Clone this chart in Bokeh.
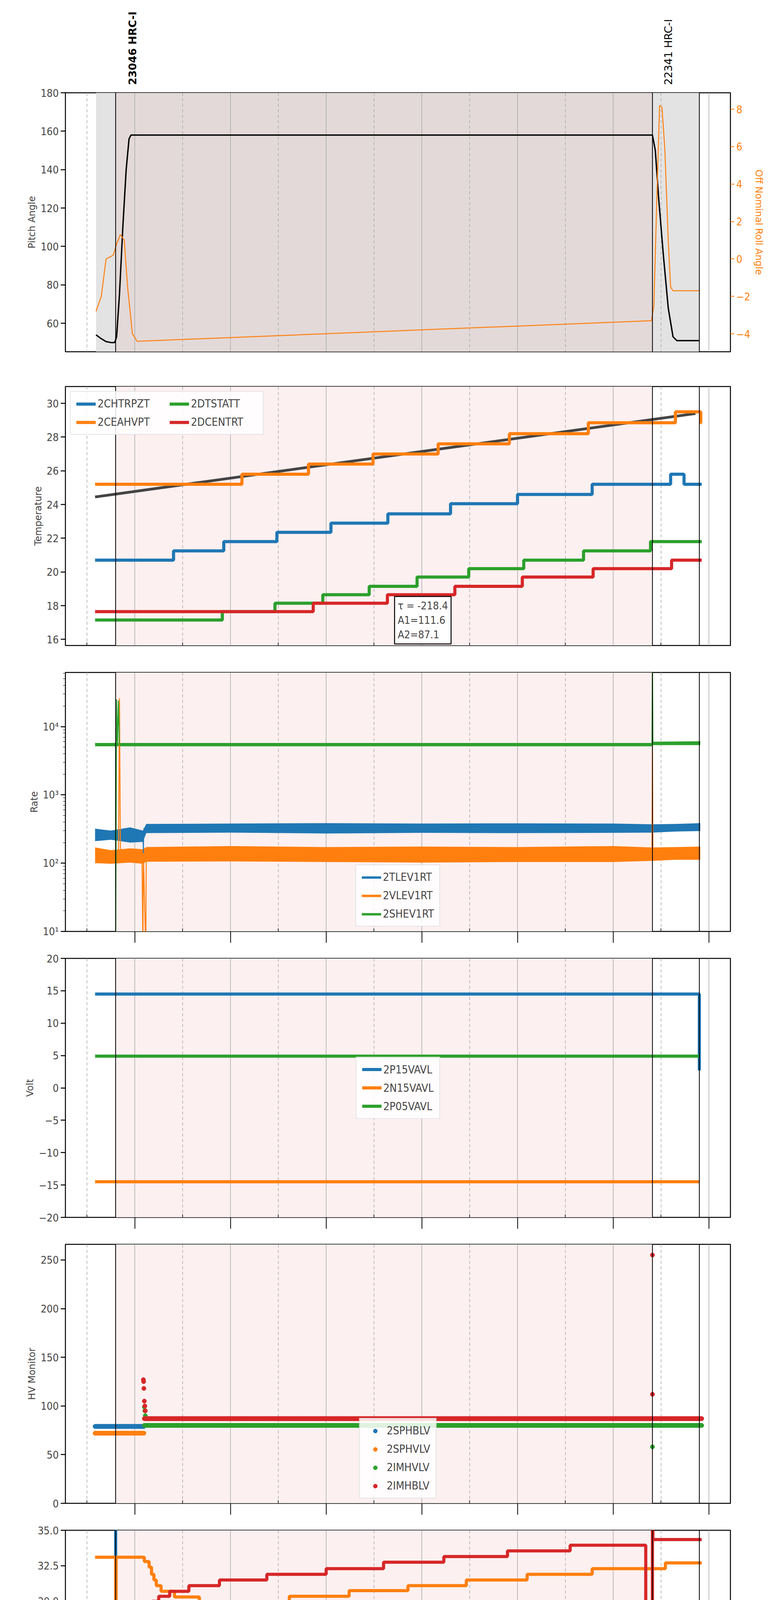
import numpy as np
from math import pi
from bokeh.plotting import figure
from bokeh.models import (Range1d, LinearAxis, FixedTicker, Span, BoxAnnotation, Label)
from bokeh.layouts import column
from bokeh.embed import file_html
from bokeh.resources import INLINE
from bokeh.core.properties import value

BLUE, ORANGE, GREEN, RED = "#1f77b4", "#ff7f0e", "#2ca02c", "#d62728"
FONT = "DejaVu Sans"
CFONT = "DejaVu Sans Condensed"

# ---------------- data (hours; 24 = 00h of next day) ----------------
obs_start, obs_end, end_line = 17.6, 28.82, 29.8
grey1 = (17.19, 17.6)
grey2 = (28.82, 29.8)
obsid_text = ["23046 HRC-I", "22341 HRC-I"]
obsid_x = [17.95, 29.15]
obsid_style = ["bold", "normal"]

pitch_t = [17.19, 17.3, 17.4, 17.5, 17.58, 17.62, 17.68, 17.75, 17.82, 17.88, 17.92, 28.82, 28.88, 28.95, 29.05, 29.15, 29.25, 29.33, 29.8]
pitch_v = [54, 52, 50.5, 50, 50, 53, 75, 110, 140, 156, 158, 158, 150, 125, 95, 68, 53, 51, 51]
roll_t = [17.19, 17.3, 17.4, 17.55, 17.62, 17.7, 17.78, 17.85, 17.95, 18.05, 28.8, 28.85, 28.92, 28.97, 29.02, 29.08, 29.15, 29.2, 29.25, 29.8]
roll_v = [-2.8, -2.0, 0.0, 0.2, 0.8, 1.3, 1.0, -1.5, -4.0, -4.4, -3.3, -2.5, 4.0, 8.2, 8.1, 5.8, 1.0, -1.5, -1.7, -1.7]

t_end = 29.85
CHTRPZT_t = [17.17, 18.81, 19.86, 20.97, 22.10, 23.29, 24.60, 26.00, 27.56, 29.20, 29.48]
CHTRPZT_v = [20.7, 21.25, 21.8, 22.35, 22.9, 23.45, 24.05, 24.6, 25.2, 25.8, 25.2]
CEAHVPT_t = [17.17, 20.24, 21.63, 22.98, 24.34, 25.83, 27.48, 29.30, 29.83]
CEAHVPT_v = [25.2, 25.8, 26.4, 27.0, 27.6, 28.2, 28.85, 29.5, 28.85]
DTSTATT_t = [17.17, 19.83, 20.93, 21.93, 22.90, 23.90, 24.98, 26.13, 27.38, 28.78]
DTSTATT_v = [17.15, 17.65, 18.15, 18.65, 19.15, 19.7, 20.2, 20.7, 21.25, 21.8]
DCENTRT_t = [17.17, 21.73, 23.28, 24.69, 26.10, 27.58, 29.22]
DCENTRT_v = [17.65, 18.15, 18.65, 19.15, 19.7, 20.2, 20.7]
fit_t = [17.17, 23.5, 29.72]
fit_v = [24.45, 26.95, 29.4]
fit_text = "τ = -218.4\nA1=111.6\nA2=87.1"

tlev_t = [17.17, 17.5, 17.9, 18.17, 18.24, 20.0, 22.0, 24.0, 26.0, 28.0, 28.82, 29.3, 29.82]
tlev_lo = [210, 220, 200, 205, 275, 280, 272, 278, 275, 278, 280, 290, 295]
tlev_hi = [320, 300, 335, 300, 375, 380, 385, 380, 383, 380, 370, 375, 385]
vlev_t = [17.17, 17.5, 17.9, 18.17, 18.24, 20.0, 22.0, 24.0, 26.0, 28.0, 28.82, 29.3, 29.82]
vlev_lo = [100, 98, 102, 98, 105, 106, 104, 102, 104, 104, 108, 112, 112]
vlev_hi = [170, 155, 165, 160, 172, 178, 172, 175, 172, 178, 170, 172, 175]
shev_t = [17.17, 28.82, 28.83, 29.82]
shev_lo = [5150, 5150, 5350, 5350]
shev_hi = [5750, 5750, 6000, 6100]
tlev_line_t = [17.17, 18.17, 18.18, 18.19, 29.82]
tlev_line_v = [265, 255, 130, 325, 330]
shev_spk_t = [17.58, 17.6, 17.6, 17.62, 17.64, 17.66, 17.68, 28.81, 28.82, 28.83]
shev_spk_v = [5400, 5400, 5, 25000, 5400, 24000, 5400, 5400, 1e5, 5600]
vlev_spk_t = [17.66, 17.68, 17.7, 18.15, 18.17, 18.18, 18.23, 18.24, 28.81, 28.82, 28.83]
vlev_spk_v = [140, 26000, 140, 140, 5, 140, 5, 140, 140, 5200, 150]

volt_t = [17.17, 29.8, 29.8]
P15_v = [14.5, 14.5, 2.7]
N15_v = [-14.5, -14.5, -14.5]
P05_v = [4.9, 4.9, 4.9]

hv_pre = (17.17, 18.2)
SPHBLV_v = 79
SPHVLV_v = 72
hv_post = (18.2, 29.85)
IMHVLV_v = 80
IMHBLV_v = 87
IMHBLV_out_t = [18.18, 18.185, 18.19, 18.2, 18.21, 18.22, 28.82, 28.82]
IMHBLV_out_v = [127, 125, 118, 105, 100, 95, 255, 112]
IMHVLV_out_t = [18.2, 18.21, 18.22, 28.82]
IMHVLV_out_v = [99, 95, 90, 58]

SPINATM_t = [17.17, 17.6, 17.6, 18.10, 19.06, 22.17, 24.44, 26.65, 29.11]
SPINATM_v = [18.9, 40, 18.9, 18.25, 18.9, 19.6, 20.3, 20.95, 21.65]
SPHVATM_t = [17.17, 17.6, 17.61, 18.2, 18.3, 18.35, 18.4, 18.45, 18.55, 18.6, 18.83, 19.35, 21.23, 22.48, 23.71, 24.93, 26.2, 27.56, 29.09]
SPHVATM_v = [33.1, 29.6, 33.1, 32.8, 32.4, 31.9, 31.5, 31.1, 30.7, 30.7, 30.3, 29.95, 30.35, 30.75, 31.1, 31.5, 31.9, 32.3, 32.7]
IMINATM_t = [17.17, 17.3, 17.6, 17.61, 19.83, 23.47, 25.81, 28.16]
IMINATM_v = [18.2, 17.6, 10, 17.6, 17.6, 18.2, 18.9, 19.6]
IMHVATM_t = [17.17, 17.6, 17.61, 18.36, 18.5, 18.73, 19.13, 19.77, 20.76, 22.0, 23.2, 24.46, 25.79, 27.1, 28.68, 28.82, 28.83]
IMHVATM_v = [29.6, 17.8, 29.6, 30.0, 30.35, 30.7, 31.1, 31.5, 31.9, 32.3, 32.75, 33.15, 33.55, 33.95, 10, 40, 34.35]

FHTRMZT_t = [17.17, 17.84, 18.23, 18.9, 19.46, 20.06, 20.71, 21.39, 22.11, 22.95, 23.78, 24.72, 25.76, 26.96, 28.31, 29.77]
FHTRMZT_v = [18.15, 17.6, 18.15, 18.65, 19.15, 19.7, 20.2, 20.7, 21.3, 21.8, 22.4, 22.9, 23.45, 24.05, 24.6, 24.05]
FRADPYT_t = [18.63, 18.97, 19.44, 20.0, 20.6, 21.28, 21.99, 22.72, 23.57, 24.48, 25.5, 26.65, 27.97, 29.11, 29.43]
FRADPYT_v = [14.75, 15.25, 15.7, 16.2, 16.7, 17.15, 17.65, 18.15, 18.65, 19.15, 19.7, 20.2, 20.7, 20.2, 19.7]
FEPRATM_t = [17.17, 17.6, 17.61, 19.35, 20.26, 21.26, 22.32, 23.59, 24.98, 26.7, 28.73, 28.8, 28.81, 28.82, 29.75]
FEPRATM_v = [21.0, 30, 21.0, 21.7, 22.4, 23.15, 23.9, 24.6, 25.4, 26.15, 30, 26.2, 24.0, 30, 26.15]
FE00ATM_t = [17.17, 17.6, 17.61, 17.75, 17.8, 18.05, 18.1, 18.7, 19.1, 19.56, 19.98, 20.45, 20.92, 21.44, 21.85, 22.53, 23.2, 23.73, 24.46, 25.24, 26.02, 26.9, 27.84, 28.82, 28.83, 28.9]
FE00ATM_v = [18.7, 10, 18.7, 19.3, 18.7, 18.3, 18.7, 19.0, 19.3, 19.6, 19.9, 20.2, 20.5, 20.8, 21.1, 21.4, 21.75, 22.05, 22.35, 22.65, 23.0, 23.3, 23.6, 10, 24.0, 23.6]

xticks_even = [18, 20, 22, 24, 26, 28, 30]
xticks_odd = [17, 19, 21, 23, 25, 27, 29]
def hlabel(h):
    return "%02dh" % (h % 24)

# ---------------- helpers ----------------
X0, X1 = 16.55, 30.45
FW, FH = 1703, 663
LEFT, RIGHT = 167, 110

def stepxy(t, v, end=t_end):
    xs, ys = [], []
    for i, (a, b) in enumerate(zip(t, v)):
        nxt = t[i + 1] if i + 1 < len(t) else end
        xs += [a, nxt]
        ys += [b, b]
    return xs, ys

def make_fig(yr, ylabel, xr, top=20, bottom=49, log=False, ticks=None, xticks_out=29, xaxis=True):
    p = figure(frame_width=FW, frame_height=FH, x_range=xr, y_range=Range1d(*yr),
               y_axis_type="log" if log else "linear", output_backend="svg", toolbar_location=None,
               min_border_left=LEFT, min_border_right=RIGHT, min_border_top=top, min_border_bottom=bottom,
               x_axis_location=None)
    p.grid.visible = False
    p.outline_line_color = "black"
    p.outline_line_width = 2.5
    ya = p.yaxis[0]
    ya.axis_label = ylabel
    ya.axis_label_text_font = FONT
    ya.axis_label_text_font_size = "24px"
    ya.axis_label_text_font_style = "normal"
    ya.major_label_text_font = CFONT
    ya.major_label_text_font_size = "27px"
    ya.major_tick_out = 12
    ya.major_tick_in = 0
    ya.major_tick_line_width = 2.5
    ya.minor_tick_in = 0
    ya.minor_tick_out = 6 if log else 0
    ya.axis_line_color = None
    if ticks is not None:
        ya.ticker = ticks
    if xaxis:
        xa = LinearAxis(ticker=FixedTicker(ticks=xticks_even, minor_ticks=xticks_odd))
        xa.major_tick_out = xticks_out
        xa.major_tick_in = 0
        xa.major_tick_line_width = 2
        xa.minor_tick_out = 0
        xa.minor_tick_in = 8
        xa.minor_tick_line_width = 1.5
        xa.axis_line_color = None
        xa.major_label_text_font_size = "0px"
        xa.major_label_text_color = None
        p.add_layout(xa, "below")
    return p

def decorate(p, shade_color, first=False):
    if first:
        for a, b in (grey1, grey2):
            p.add_layout(BoxAnnotation(left=a, right=b, fill_color="#e3e3e3", fill_alpha=1, line_color=None, level="underlay"))
    p.add_layout(BoxAnnotation(left=obs_start, right=obs_end, fill_color=shade_color, fill_alpha=1, line_color=None, level="underlay"))
    for h in xticks_odd:
        p.add_layout(Span(location=h, dimension="height", line_color="#aaaaaa", line_dash="8 6", line_width=1.5, level="underlay"))
    for h in xticks_even:
        p.add_layout(Span(location=h, dimension="height", line_color="#aaaaaa", line_width=1.5, level="underlay"))
    for h in (obs_start, obs_end, end_line):
        p.add_layout(Span(location=h, dimension="height", line_color="black", line_width=2))

def style_legend(p, loc, ncols=1):
    lg = p.legend[0]
    lg.location = loc
    lg.ncols = ncols
    lg.label_text_font = CFONT
    lg.label_text_font_size = "28px"
    lg.glyph_width = 50
    lg.glyph_height = 26
    lg.spacing = 14
    lg.padding = 14
    lg.margin = 12
    lg.border_line_color = "#cccccc"
    lg.border_line_width = 2
    lg.background_fill_alpha = 0.85

PINK = "#fdf0f0"
shared_x = Range1d(X0, X1)

# ---------------- header with observation labels ----------------
hdr = figure(frame_width=FW, frame_height=222, x_range=shared_x, y_range=Range1d(0, 222),
             output_backend="svg", toolbar_location=None, min_border_left=LEFT, min_border_right=RIGHT,
             min_border_top=0, min_border_bottom=0, x_axis_location=None, y_axis_location=None)
hdr.grid.visible = False
hdr.outline_line_color = None
for txt, hx, st in zip(obsid_text, obsid_x, obsid_style):
    hdr.text(x=[hx], y=[5], text=[txt], angle=pi / 2, text_align="left", text_baseline="middle",
             text_font=value(FONT), text_font_size="27px", text_font_style=st, text_color="black")

# ---------------- panel 1 ----------------
p1 = make_fig((45.2, 180), "Pitch Angle", shared_x, top=15, bottom=69, ticks=FixedTicker(ticks=[60, 80, 100, 120, 140, 160, 180]), xaxis=False)
decorate(p1, "#e3d9d9", first=True)
p1.extra_y_ranges = {"roll": Range1d(-4.96, 8.88)}
ra = LinearAxis(y_range_name="roll", ticker=FixedTicker(ticks=[-4, -2, 0, 2, 4, 6, 8]), axis_label="Off Nominal Roll Angle")
ra.axis_label_text_color = ORANGE
ra.axis_label_text_font = FONT
ra.axis_label_text_font_size = "24px"
ra.axis_label_text_font_style = "normal"
ra.major_label_text_color = ORANGE
ra.major_label_text_font = CFONT
ra.major_label_text_font_size = "27px"
ra.major_tick_line_color = ORANGE
ra.major_tick_line_width = 2
ra.major_tick_out = 10
ra.major_tick_in = 0
ra.minor_tick_out = 0
ra.axis_line_color = None
p1.add_layout(ra, "right")
p1.line(pitch_t, pitch_v, color="black", line_width=3.5)
p1.line(roll_t, roll_v, color=ORANGE, line_width=2.5, y_range_name="roll")

# ---------------- panel 2 ----------------
p2 = make_fig((15.64, 31.0), "Temperature", shared_x, ticks=FixedTicker(ticks=[16, 18, 20, 22, 24, 26, 28, 30]), xticks_out=0)
decorate(p2, PINK)
p2.line(fit_t, fit_v, color="#444444", line_width=7)
for t, v, c, n in [(CHTRPZT_t, CHTRPZT_v, BLUE, "2CHTRPZT"), (CEAHVPT_t, CEAHVPT_v, ORANGE, "2CEAHVPT"),
                   (DTSTATT_t, DTSTATT_v, GREEN, "2DTSTATT"), (DCENTRT_t, DCENTRT_v, RED, "2DCENTRT")]:
    xs, ys = stepxy(t, v)
    p2.line(xs, ys, color=c, line_width=8, legend_label=n)
style_legend(p2, "top_left", ncols=2)
p2.legend[0].label_width = 170
p2.add_layout(Label(x=23.43, y=15.64, y_offset=4, text=fit_text, text_baseline="bottom", text_font=CFONT, text_font_size="27px",
                    border_line_color="black", border_line_width=2.5, background_fill_color="white", padding=8))

# ---------------- panel 3 ----------------
p3 = make_fig((10, 6.2e4), "Rate", shared_x, log=True,
              ticks=FixedTicker(ticks=[10, 100, 1000, 10000],
                                minor_ticks=[m * 10 ** e for e in range(1, 5) for m in range(2, 10)]))
p3.yaxis[0].major_label_overrides = {10: "10¹", 100: "10²", 1000: "10³", 10000: "10⁴"}
decorate(p3, PINK)
p3.varea(x=tlev_t, y1=tlev_lo, y2=tlev_hi, color=BLUE)
p3.varea(x=vlev_t, y1=vlev_lo, y2=vlev_hi, color=ORANGE)
p3.varea(x=shev_t, y1=shev_lo, y2=shev_hi, color=GREEN)
p3.line(tlev_line_t, tlev_line_v, color=BLUE, line_width=2)
p3.line(vlev_spk_t, vlev_spk_v, color=ORANGE, line_width=2.5)
p3.line(shev_spk_t, shev_spk_v, color=GREEN, line_width=2.5)
for c, n in [(BLUE, "2TLEV1RT"), (ORANGE, "2VLEV1RT"), (GREEN, "2SHEV1RT")]:
    p3.line([0, 0.1], [1, 1], color=c, line_width=6, legend_label=n)
style_legend(p3, "bottom_center")

# ---------------- panel 4 ----------------
p4 = make_fig((-20, 20), "Volt", shared_x, ticks=FixedTicker(ticks=[-20, -15, -10, -5, 0, 5, 10, 15, 20]))
decorate(p4, PINK)
p4.line(volt_t, P15_v, color=BLUE, line_width=8, legend_label="2P15VAVL")
p4.line(volt_t, N15_v, color=ORANGE, line_width=8, legend_label="2N15VAVL")
p4.line(volt_t, P05_v, color=GREEN, line_width=8, legend_label="2P05VAVL")
style_legend(p4, "center")

# ---------------- panel 5 ----------------
p5 = make_fig((0, 266), "HV Monitor", shared_x, ticks=FixedTicker(ticks=[0, 50, 100, 150, 200, 250]))
decorate(p5, PINK)
pre_t = np.arange(hv_pre[0], hv_pre[1], 0.01)
post_t = np.arange(hv_post[0], hv_post[1], 0.01)
p5.scatter(pre_t, [SPHBLV_v] * len(pre_t), color=BLUE, size=11, legend_label="2SPHBLV")
p5.scatter(pre_t, [SPHVLV_v] * len(pre_t), color=ORANGE, size=11, legend_label="2SPHVLV")
p5.scatter(list(post_t) + IMHVLV_out_t, [IMHVLV_v] * len(post_t) + IMHVLV_out_v, color=GREEN, size=11, legend_label="2IMHVLV")
p5.scatter(list(post_t) + IMHBLV_out_t, [IMHBLV_v] * len(post_t) + IMHBLV_out_v, color=RED, size=11, legend_label="2IMHBLV")
style_legend(p5, "bottom_center")

# ---------------- panel 6 ----------------
p6 = make_fig((16.76, 35.0), "Detector Temp", shared_x, ticks=FixedTicker(ticks=[17.5, 20, 22.5, 25, 27.5, 30, 32.5, 35]))
p6.yaxis[0].major_label_overrides = {17.5: "17.5", 20: "20.0", 22.5: "22.5", 25: "25.0", 27.5: "27.5", 30: "30.0", 32.5: "32.5", 35: "35.0"}
decorate(p6, PINK)
for t, v, c, n in [(SPINATM_t, SPINATM_v, BLUE, "2SPINATM"), (SPHVATM_t, SPHVATM_v, ORANGE, "2SPHVATM"),
                   (IMINATM_t, IMINATM_v, GREEN, "2IMINATM"), (IMHVATM_t, IMHVATM_v, RED, "2IMHVATM")]:
    xs, ys = stepxy(t, v)
    p6.line(xs, ys, color=c, line_width=8, legend_label=n)
style_legend(p6, "center")

# ---------------- panel 7 ----------------
p7 = make_fig((14.68, 26.89), "FEA Temp", shared_x, bottom=105, ticks=FixedTicker(ticks=[16, 18, 20, 22, 24, 26]), xaxis=False)
decorate(p7, PINK)
for t, v, c, n in [(FHTRMZT_t, FHTRMZT_v, BLUE, "2FHTRMZT"), (FRADPYT_t, FRADPYT_v, ORANGE, "2FRADPYT"),
                   (FEPRATM_t, FEPRATM_v, GREEN, "2FEPRATM"), (FE00ATM_t, FE00ATM_v, RED, "2FE00ATM")]:
    xs, ys = stepxy(t, v)
    p7.line(xs, ys, color=c, line_width=8, legend_label=n)
style_legend(p7, "top_left")
# close axis: small odd-hour labels with long even-hour ticks; outer axis: even-hour labels and date
odd_axis = LinearAxis(ticker=FixedTicker(ticks=xticks_odd, minor_ticks=xticks_even), axis_line_color=None,
                      major_tick_out=8, major_tick_in=0, major_tick_line_width=1.5,
                      minor_tick_out=29, minor_tick_in=0, minor_tick_line_width=2,
                      major_label_text_font=CFONT, major_label_text_font_size="19px", major_label_standoff=2,
                      major_label_overrides={h: hlabel(h) for h in xticks_odd})
even_axis = LinearAxis(ticker=FixedTicker(ticks=xticks_even), axis_line_color=None, major_tick_out=0, major_tick_in=0,
                       minor_tick_out=0, major_label_text_font=CFONT, major_label_text_font_size="30px",
                       major_label_standoff=2, major_label_overrides={h: hlabel(h) for h in xticks_even},
                       axis_label="2020-04-29 (120)", axis_label_text_font=CFONT, axis_label_text_font_size="34px",
                       axis_label_text_font_style="normal", axis_label_standoff=4)
p7.add_layout(odd_axis, "below")
p7.add_layout(even_axis, "below")

layout = column(hdr, p1, p2, p3, p4, p5, p6, p7, spacing=0)
open("out.html", "w").write(file_html(layout, INLINE))
